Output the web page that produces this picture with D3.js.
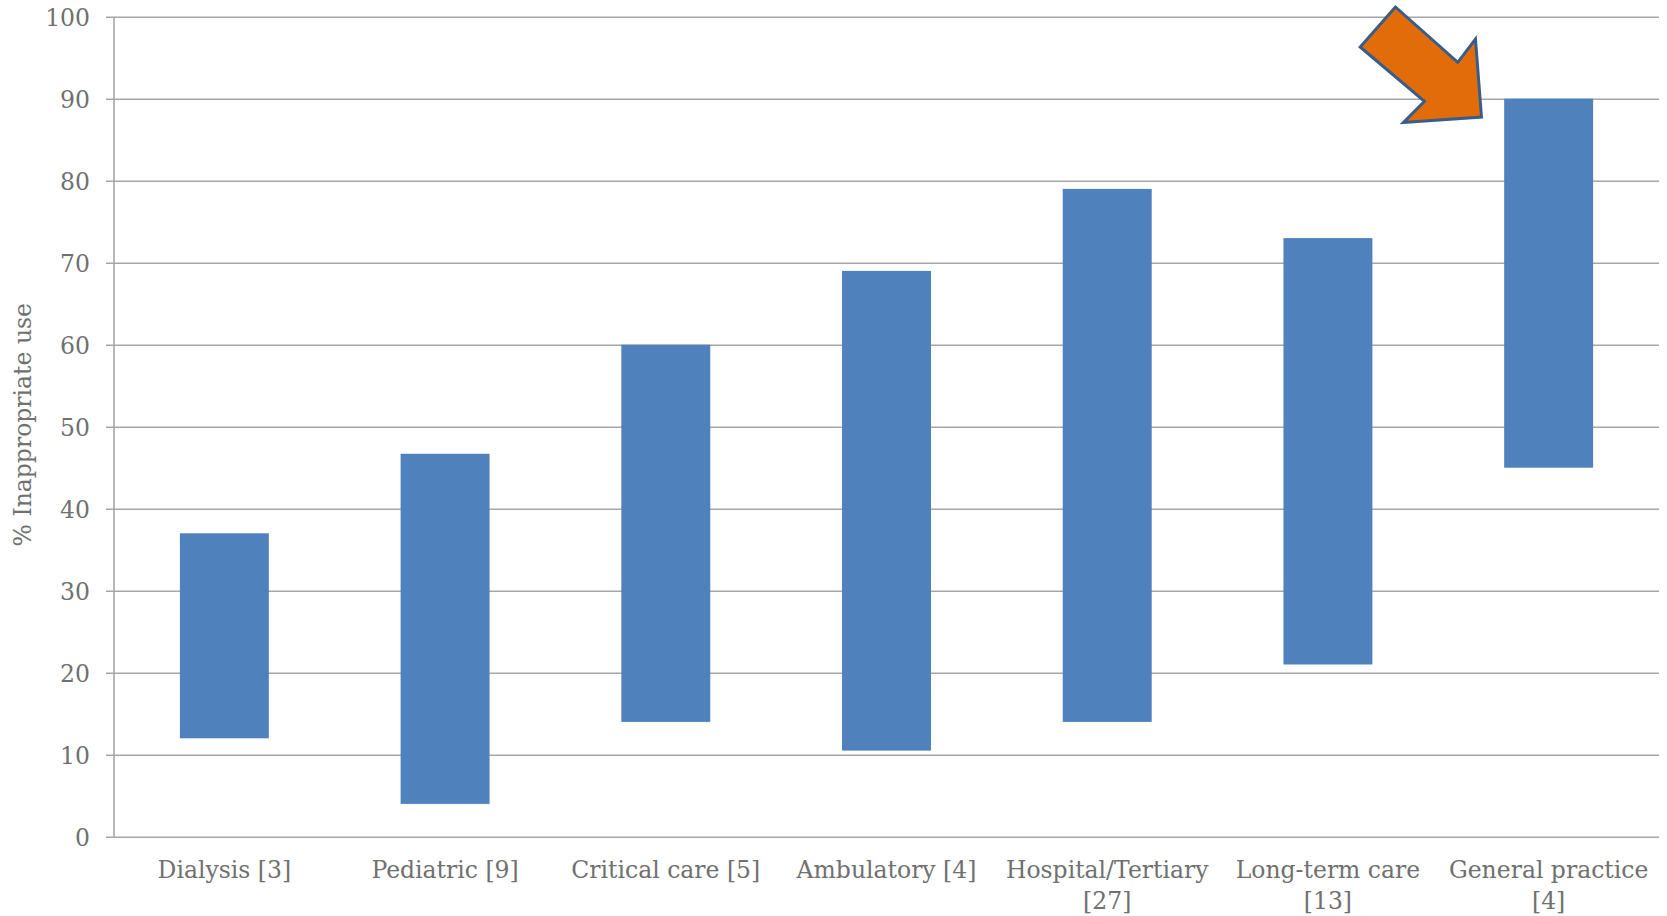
<!DOCTYPE html>
<html>
<head>
<meta charset="utf-8">
<script src="https://cdn.jsdelivr.net/npm/d3@7"></script>
<style>
  html, body { margin: 0; padding: 0; background: #fff; }
  svg { display: block; }
  text { font-family: "DejaVu Serif", "Liberation Serif", serif; fill: #707070; }
</style>
</head>
<body>
<svg id="chart" width="1667" height="916"></svg>
<script>
// ---- data ----
const categories = ["Dialysis [3]", "Pediatric [9]", "Critical care [5]", "Ambulatory [4]",
                    "Hospital/Tertiary [27]", "Long-term care [13]", "General practice [4]"];
const lowValues  = [12, 4, 14, 10.5, 14, 21, 45];
const highValues = [37, 46.7, 60, 69, 79, 73, 90];
const yTicks = [0, 10, 20, 30, 40, 50, 60, 70, 80, 90, 100];
const yLabel = "% Inappropriate use";
const highlighted = "General practice [4]";

// ---- layout ----
const W = 1667, H = 916;
const margin = { top: 16.7, right: 8, bottom: 79.3, left: 114 };
const iw = W - margin.left - margin.right;
const ih = H - margin.top - margin.bottom;
const FS = 23.5;
const gridColor = "#a6a6a6";

const svg = d3.select("#chart");
const g = svg.append("g").attr("transform", `translate(${margin.left},${margin.top})`);

const x = d3.scaleBand().domain(categories).range([0, iw]).paddingInner(0.597).paddingOuter(0.2985);
const y = d3.scaleLinear().domain([0, 100]).range([ih, 0]);

// gridlines + y ticks
const yAxis = d3.axisLeft(y).tickValues(yTicks).tickSize(-(iw + 8)).tickPadding(16).tickFormat(d3.format("d"));
const ya = g.append("g").attr("transform", "translate(-8,0)").call(yAxis);
ya.select(".domain").remove();
ya.selectAll(".tick line").attr("x1", 0).attr("x2", iw + 8).attr("stroke", gridColor).attr("stroke-width", 1.6);
ya.selectAll(".tick text").attr("x", -16).attr("dy", "0.38em").style("font-size", FS + "px").style("fill", "#707070")
  .style("font-family", '"DejaVu Serif", serif');

// y axis line
g.append("line").attr("x1", 0).attr("x2", 0).attr("y1", 0).attr("y2", ih)
  .attr("stroke", gridColor).attr("stroke-width", 1.6);

// bars (floating)
g.selectAll("rect.bar").data(categories).join("rect")
  .attr("class", "bar")
  .attr("x", d => x(d))
  .attr("width", x.bandwidth())
  .attr("y", (d, i) => y(highValues[i]))
  .attr("height", (d, i) => y(lowValues[i]) - y(highValues[i]))
  .attr("fill", "#4F81BD");

// x labels
const xl = g.append("g").attr("transform", `translate(0,${ih})`);
categories.forEach(c => {
  const t = xl.append("text")
    .attr("x", x(c) + x.bandwidth() / 2)
    .attr("y", 41)
    .attr("text-anchor", "middle")
    .style("font-size", FS + "px");
  t.text(c);
  const w = t.node().getComputedTextLength();
  if (w > x.step() * 0.97) {
    const k = c.lastIndexOf(" ");
    t.text(null);
    t.append("tspan").attr("x", x(c) + x.bandwidth() / 2).attr("dy", 0).text(c.slice(0, k));
    t.append("tspan").attr("x", x(c) + x.bandwidth() / 2).attr("dy", 31).text(c.slice(k + 1));
  }
});

// y axis title
svg.append("text")
  .attr("transform", `translate(31,${margin.top + ih / 2 - 2}) rotate(-90)`)
  .attr("text-anchor", "middle")
  .style("font-size", FS + "px")
  .text(yLabel);

// arrow annotation pointing at highlighted bar
const hi = categories.indexOf(highlighted);
const ax = x(highlighted), ay = y(highValues[hi]);
const arrowOffsets = [[-108.7, -91.7], [-144, -51.7], [-79.7, 2.7], [-100.7, 23.7],
                      [-22.7, 18.3], [-28.7, -59.7], [-46.4, -36.3]];
g.append("path")
  .attr("d", d3.line()(arrowOffsets.map(p => [ax + p[0], ay + p[1]])) + "Z")
  .attr("fill", "#E36C0A")
  .attr("stroke", "#385D8A")
  .attr("stroke-width", 3)
  .attr("stroke-linejoin", "miter");
</script>
</body>
</html>
